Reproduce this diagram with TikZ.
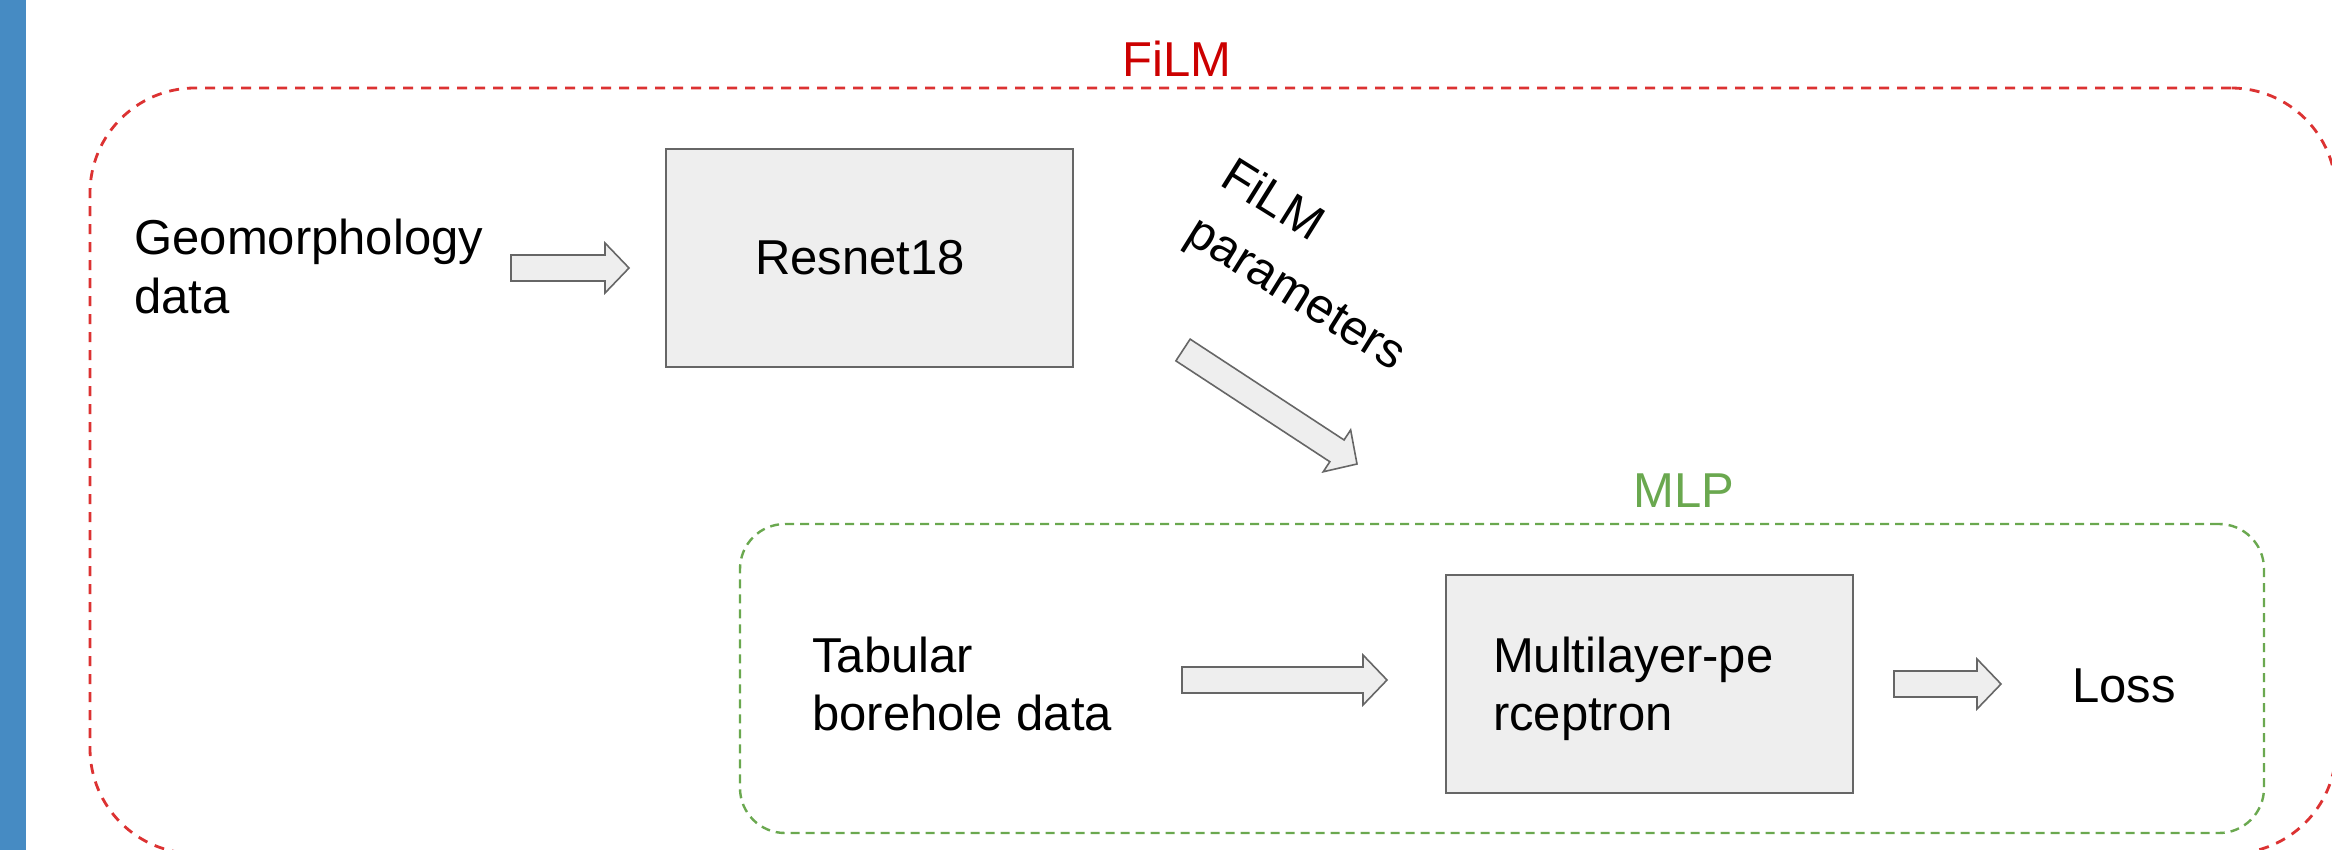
\documentclass[tikz,border=0pt]{standalone}
\usepackage{fontspec}
\setmainfont{Liberation Sans}
\usetikzlibrary{calc}
\definecolor{barblue}{RGB}{70,139,195}
\definecolor{filmred}{RGB}{220,50,50}
\definecolor{filmtext}{RGB}{204,0,0}
\definecolor{mlpgreen}{RGB}{106,168,79}
\definecolor{boxfill}{RGB}{238,238,238}
\definecolor{boxline}{RGB}{102,102,102}
% block arrow from tail #1 to tip #2
\newcommand\blockarrow[2]{%
  \coordinate (#1-hb) at ($(#2)!12pt!(#1)$);
  \draw[blkarrow] ($(#1)!6.5pt!90:(#2)$) -- ($(#1-hb)!6.5pt!-90:(#1)$) -- ($(#1-hb)!12.5pt!-90:(#1)$) -- (#2)
     -- ($(#1-hb)!12.5pt!90:(#1)$) -- ($(#1-hb)!6.5pt!90:(#1)$) -- ($(#1)!6.5pt!-90:(#2)$) -- cycle;}
\begin{document}
\begin{tikzpicture}[x=0.5pt,y=-0.5pt,
  txt/.style={font=\fontsize{24.5}{29}\selectfont, inner sep=0pt, text=black},
  procbox/.style={draw=boxline, fill=boxfill, line width=1pt, minimum width=203.5pt,
     minimum height=109pt, align=left, inner ysep=0pt, font=\fontsize{24.5}{29}\selectfont},
  blkarrow/.style={draw=boxline, fill=boxfill, line width=0.8pt, line join=miter},
  filmbox/.style={draw=filmred, line width=1.4pt, dash pattern=on 5pt off 4pt,
     rounded corners=52.5pt, minimum width=1123pt, minimum height=382.75pt, inner sep=0pt},
  mlpbox/.style={draw=mlpgreen, line width=1.2pt, dash pattern=on 4.5pt off 3pt,
     rounded corners=22.5pt, minimum width=762pt, minimum height=154.5pt, inner sep=0pt}]
\useasboundingbox (0,0) rectangle (2332,850);
\clip (0,0) rectangle (2332,850);
\fill[white] (0,0) rectangle (2332,850);
\fill[barblue] (0,0) rectangle (25.5,850);
% group containers
\node[filmbox] (filmgroup) at (1213,470.75) {};
\node[mlpbox] (mlpgroup) at (1502,678.5) {};
\node[txt, text=filmtext, anchor=base] (filmlabel) at (1177,77) {FiLM};
\node[txt, text=mlpgreen, anchor=base] (mlplabel) at (1684,507) {MLP};
% process boxes
\node[procbox, text width=114.5pt, inner xsep=44.5pt] (resnet) at (869.5,258) {Resnet18};
\node[procbox, text width=156.5pt, inner xsep=23.5pt] (mlp) at (1649.5,684) {\rule{0pt}{22.5pt}Multilayer-pe\\rceptron};
% texts
\node[txt, align=left, anchor=base west] (geo) at (134,313) {Geomorphology\\data};
\node[txt, align=left, anchor=base west] (tab) at (812,730) {Tabular\\borehole data};
\node[txt, anchor=base west] (loss) at (2072,702) {Loss};
\node[txt, align=left, rotate=-32, anchor=base west] (filmparams) at (1183,240) {FiLM\\[4pt]parameters};
% block arrows
\coordinate (a1t) at (511,268);  \coordinate (a1h) at (629,268);
\coordinate (a2t) at (1182,680); \coordinate (a2h) at (1387,680);
\coordinate (a3t) at (1894,684); \coordinate (a3h) at (2001,684);
\coordinate (a4t) at (1183,350); \coordinate (a4h) at (1357,464);
\blockarrow{a1t}{a1h}
\blockarrow{a2t}{a2h}
\blockarrow{a3t}{a3h}
\blockarrow{a4t}{a4h}
\end{tikzpicture}
\end{document}
